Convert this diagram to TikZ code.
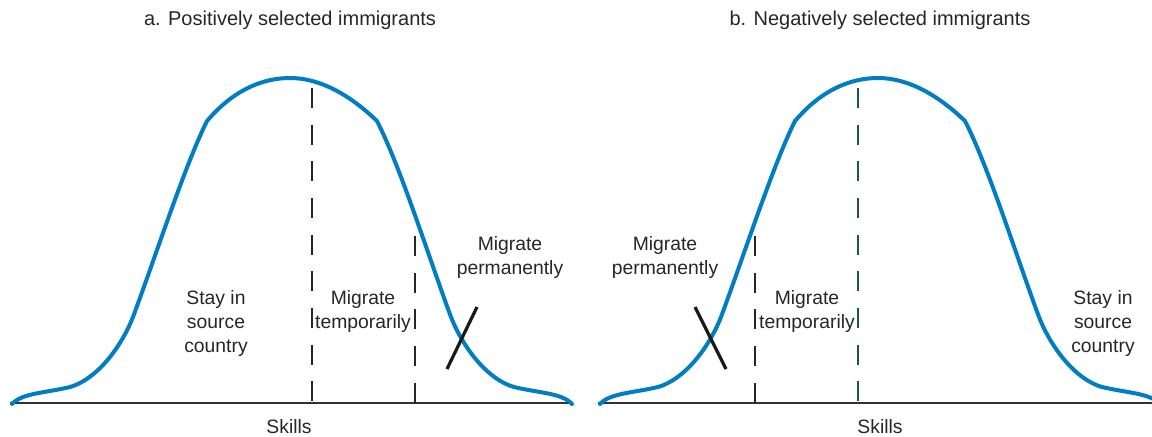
\documentclass[tikz,border=0pt]{standalone}
\usepackage{fontspec}
\setmainfont{Liberation Sans}
\definecolor{curveblue}{RGB}{0,125,196}
\definecolor{axisgray}{RGB}{50,50,50}
\definecolor{darkteal}{RGB}{25,85,85}
\newcommand\bellcurve{%
  (12,404) .. controls (22,393) and (45,393) .. (70,387)
  .. controls (95,380) and (120,350) .. (133,317)
  .. controls (155,258) and (185,165) .. (207,121)
  .. controls (235,88) and (265,78) .. (290,78)
  .. controls (320,78) and (350,95) .. (377,121)
  .. controls (401,168) and (429,258) .. (451,317)
  .. controls (464,350) and (489,380) .. (514,387)
  .. controls (539,393) and (562,393) .. (572,404)}
\begin{document}
\begin{tikzpicture}[x=0.75pt,y=-0.75pt,
  bell/.style={draw=curveblue,line width=3pt,line join=miter,line cap=round},
  axisline/.style={draw=axisgray,line width=1.3pt},
  divider/.style={draw=black!85,line width=1.2pt,dash pattern=on 15pt off 12.5pt},
  tealdivider/.style={divider,draw=darkteal},
  crossline/.style={draw=black!90,line width=2.4pt},
  lbl/.style={font=\fontsize{14.5}{18}\selectfont,text=black!85,align=center,inner sep=0pt},
  ttl/.style={font=\fontsize{15}{18}\selectfont,text=black!85,inner sep=0pt}]
\useasboundingbox (0,0) rectangle (1152,436);

% ---------- panel a ----------
\node[ttl] (ta) at (290,20) {a. Positively selected immigrants};
\coordinate (a0) at (10,403);
\coordinate (a1) at (572,403);
\draw[axisline] (a0) -- (a1);
\draw[bell] \bellcurve;
\coordinate (ad1top) at (312,88);
\coordinate (ad1bot) at (312,403);
\coordinate (ad2top) at (415,236);
\coordinate (ad2bot) at (415,403);
\draw[divider] (ad1top) -- (ad1bot);
\draw[divider] (ad2top) -- (ad2bot);
\coordinate (ax1) at (477,307);
\coordinate (ax2) at (447,369);
\draw[crossline] (ax1) -- (ax2);
\node[lbl] (astay) at (216,323) {Stay in\\source\\country};
\node[lbl] (atemp) at (363,311) {Migrate\\temporarily};
\node[lbl] (aperm) at (510,257) {Migrate\\permanently};
\node[lbl] (askill) at (289,427) {Skills};

% ---------- panel b ----------
\node[ttl] (tb) at (880,20) {b. Negatively selected immigrants};
\coordinate (b0) at (598,403);
\coordinate (b1) at (1152,403);
\draw[axisline] (b0) -- (b1);
\begin{scope}[shift={(588,0)}]
\draw[bell] \bellcurve;
\end{scope}
\coordinate (bd1top) at (858,88);
\coordinate (bd1bot) at (858,403);
\coordinate (bd2top) at (755,236);
\coordinate (bd2bot) at (755,403);
\draw[tealdivider] (bd1top) -- (bd1bot);
\draw[divider] (bd2top) -- (bd2bot);
\coordinate (bx1) at (695,307);
\coordinate (bx2) at (726,369);
\draw[crossline] (bx1) -- (bx2);
\node[lbl] (bperm) at (665,257) {Migrate\\permanently};
\node[lbl] (btemp) at (807,311) {Migrate\\temporarily};
\node[lbl] (bstay) at (1103,323) {Stay in\\source\\country};
\node[lbl] (bskill) at (880,427) {Skills};
\end{tikzpicture}
\end{document}
